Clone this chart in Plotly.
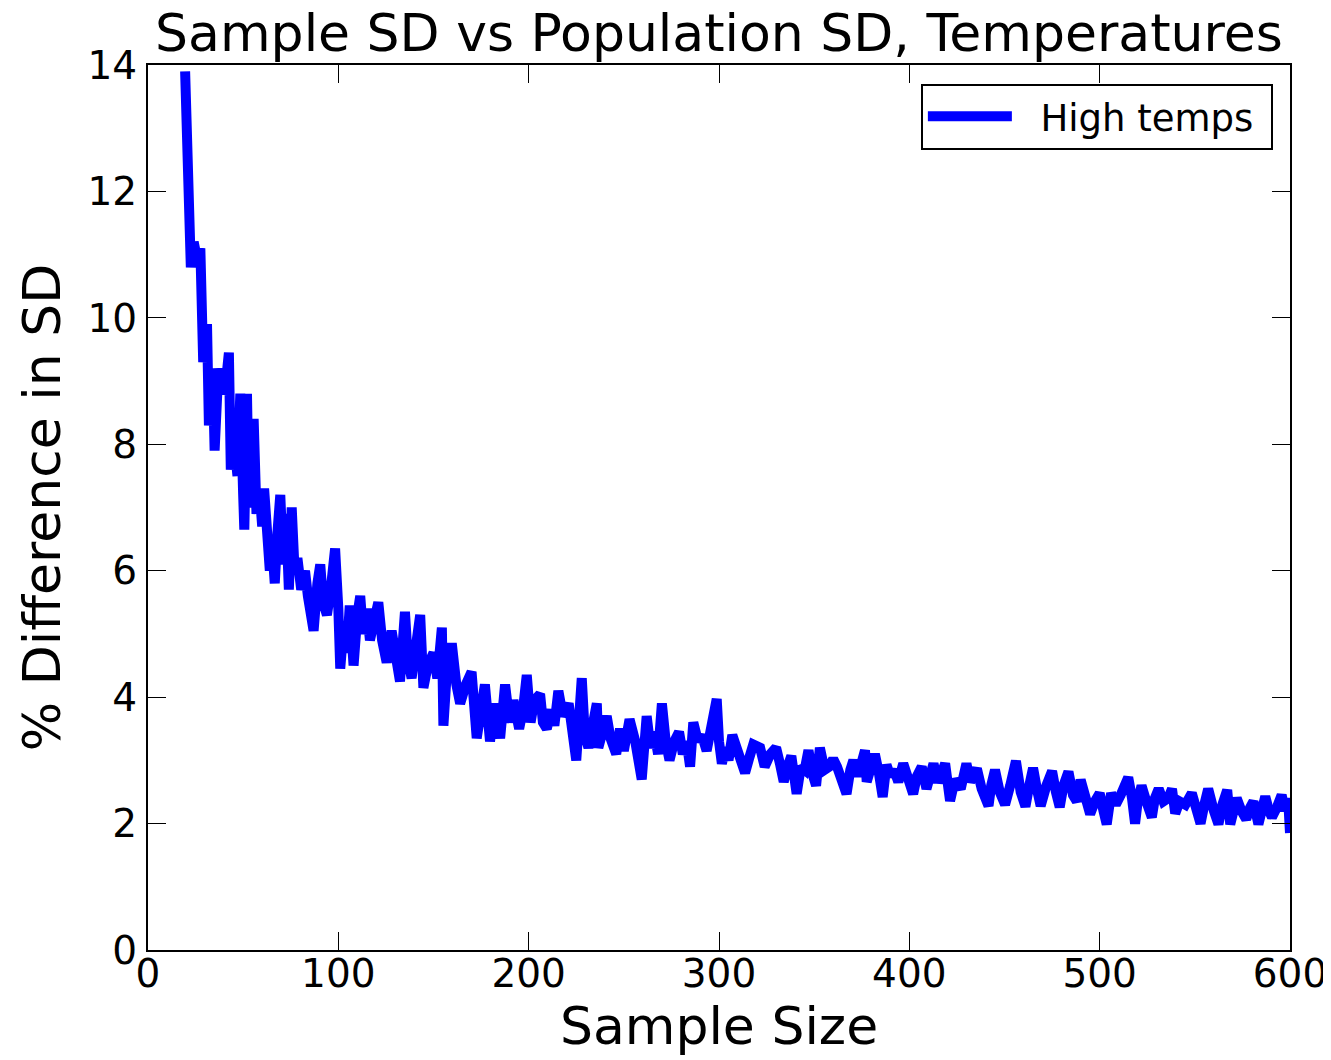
import plotly.graph_objects as go

title_text = "Sample SD vs Population SD, Temperatures"
x_label = "Sample Size"
y_label = "% Difference in SD"
series_name = "High temps"

x_ticks = [0, 100, 200, 300, 400, 500, 600]
y_ticks = [0, 2, 4, 6, 8, 10, 12, 14]

sample_size = [
    19.5, 21.5, 22.5, 24, 26, 27.5, 29, 31, 32, 34, 35, 37, 39, 41, 42.5, 43.5, 45, 47, 48.5, 50,
    50.6, 52, 53, 55.5, 57, 58.5, 60, 61, 62.5, 64, 65, 66.6, 68, 69.5, 71, 72.5, 74, 75.5, 77, 78.5,
    80.5, 82.5, 84, 87, 89, 90.5, 92, 94, 96, 98.3, 100, 101, 103, 104.5, 106, 108, 110, 111.5, 113, 115,
    116.6, 119, 121, 123, 125.4, 128, 130, 132.4, 135, 136.5, 138.5, 141, 143, 144.7, 147, 150, 152, 154.4, 155.2, 157,
    159.6, 162, 164, 167, 170, 172.7, 175, 177, 179.7, 182, 185, 187.6, 190, 192, 195, 197, 199, 201, 203, 206,
    207.5, 209.5, 212, 213.5, 215.6, 218, 221, 223, 225, 227.9, 229.5, 231.4, 233.5, 235.8, 236.6, 239, 241, 243, 246, 248,
    250, 253, 256, 259.4, 262, 264, 266, 268, 270, 272, 274, 276.5, 279, 281, 283, 284.8, 286.5, 289, 291, 293.5,
    296, 298.8, 300, 301.5, 303.5, 305, 307, 310, 313.7, 316, 318, 321.6, 324, 327, 330, 332, 334, 336, 338, 340.8,
    343, 345, 347, 349, 351, 353, 355.5, 358, 360, 362, 364, 367, 369, 370.6, 373, 376.7, 377.6, 379.5, 381.9, 384,
    386, 388, 390, 392, 394.2, 396.8, 399, 402, 404, 406.5, 409, 410.5, 412.7, 415, 418.8, 421.4, 424, 427, 430, 432,
    435.5, 438, 441.6, 443, 445, 447.5, 450.3, 453, 456, 458.5, 461, 463, 465, 467, 469, 472, 475, 477, 479, 481,
    483.6, 486, 488, 490, 492.5, 495, 497.5, 500, 502, 503.7, 506, 508.5, 511, 513, 515, 517, 518.6, 520, 522, 524.5,
    527.4, 529, 531, 533.5, 536, 538, 539.7, 542, 545, 548.4, 550.5, 553, 555, 557, 560, 562.4, 564.5, 567, 568.6, 570,
    572, 574.5, 577, 579, 580.8, 583.4, 585, 587, 589, 590.5, 593, 595.6, 597.5, 599, 600,
]

pct_diff_sd = [
    13.9, 11.4, 10.8, 11.2, 10.9, 11.1, 9.3, 9.9, 8.3, 9.2, 7.9, 9.2, 8.8, 9.0, 9.45, 7.6, 8.1, 7.5, 8.8, 7.2,
    6.65, 8.8, 7.0, 8.4, 6.9, 7.3, 6.7, 7.3, 6.4, 6.0, 6.5, 5.8, 6.6, 7.2, 6.1, 6.9, 5.7, 7.0, 6.0, 6.2,
    5.7, 6.0, 5.6, 5.05, 5.8, 6.1, 5.5, 5.3, 5.7, 6.35, 5.4, 4.45, 5.2, 4.7, 5.45, 4.5, 5.3, 5.6, 5.0, 5.4,
    4.9, 5.3, 5.5, 4.9, 4.55, 5.05, 4.7, 4.25, 5.35, 4.6, 4.3, 4.8, 5.3, 4.15, 4.5, 4.7, 4.3, 5.1, 3.55, 4.4,
    4.85, 4.2, 3.9, 4.2, 4.4, 3.35, 3.9, 4.2, 3.3, 3.9, 3.35, 4.2, 3.6, 3.95, 3.5, 3.8, 4.35, 3.6, 3.95, 4.05,
    3.6, 3.5, 3.8, 3.55, 4.1, 3.7, 3.9, 3.5, 3.0, 4.3, 3.4, 3.2, 3.6, 3.9, 3.2, 3.5, 3.7, 3.35, 3.1, 3.5,
    3.15, 3.65, 3.3, 2.7, 3.7, 3.2, 3.45, 3.1, 3.9, 3.3, 3.0, 3.3, 3.45, 3.1, 3.3, 2.9, 3.6, 3.3, 3.4, 3.15,
    3.5, 3.97, 3.3, 2.95, 3.2, 3.0, 3.4, 3.1, 2.8, 3.05, 3.25, 3.2, 2.9, 3.1, 3.2, 2.95, 2.66, 2.9, 3.07, 2.47,
    2.9, 2.85, 3.16, 2.8, 2.6, 3.2, 2.85, 2.9, 3.02, 2.9, 2.75, 2.47, 2.85, 3.0, 2.75, 3.16, 2.66, 2.9, 3.1, 2.8,
    2.42, 2.93, 2.75, 2.85, 2.66, 2.95, 2.7, 2.47, 2.75, 2.9, 2.55, 2.75, 2.95, 2.65, 2.95, 2.36, 2.7, 2.55, 2.95, 2.66,
    2.87, 2.55, 2.28, 2.6, 2.85, 2.5, 2.3, 2.6, 2.99, 2.5, 2.27, 2.6, 2.88, 2.55, 2.28, 2.6, 2.83, 2.5, 2.26, 2.6,
    2.82, 2.45, 2.35, 2.69, 2.4, 2.15, 2.35, 2.48, 2.2, 1.99, 2.48, 2.3, 2.45, 2.6, 2.73, 2.4, 2.0, 2.35, 2.6, 2.35,
    2.1, 2.4, 2.55, 2.35, 2.4, 2.55, 2.16, 2.35, 2.3, 2.48, 2.25, 2.0, 2.3, 2.55, 2.2, 1.99, 2.3, 2.53, 1.99, 2.2,
    2.4, 2.2, 2.07, 2.25, 2.35, 1.99, 2.2, 2.43, 2.2, 2.1, 2.25, 2.45, 2.2, 2.4, 1.85,
]

FONT = "DejaVu Sans"

fig = go.Figure()
fig.add_trace(go.Scatter(
    x=sample_size, y=pct_diff_sd, mode="lines",
    name="\u00a0\u00a0" + series_name + "\u00a0",
    line=dict(color="#0000FF", width=10),
    showlegend=True,
))

axis_common = dict(
    showline=True, linecolor="black", linewidth=2, mirror="ticks",
    ticks="inside", ticklen=18, tickwidth=1.2, tickcolor="black",
    showgrid=False, zeroline=False, automargin=False,
    tickfont=dict(family=FONT, size=39, color="black"),
)

# the page body adds an 8px offset, so the figure is sized to fill the window
fig.update_layout(
    width=1323, height=1052,
    margin=dict(l=140, r=41, t=57, b=110),
    paper_bgcolor="white", plot_bgcolor="white",
    font=dict(family=FONT, color="black"),
    title=dict(text=title_text, x=0.5, xref="paper", xanchor="center",
               y=1, yref="paper", yanchor="bottom", pad=dict(b=14),
               font=dict(family=FONT, size=52, color="black"),
               automargin=False),
    xaxis=dict(range=[0, 600], tickvals=x_ticks, ticklabelstandoff=-12,
               title=dict(text=x_label, font=dict(family=FONT, size=52), standoff=7),
               **axis_common),
    yaxis=dict(range=[0, 14], tickvals=y_ticks, ticklabelstandoff=1,
               title=dict(text=y_label, font=dict(family=FONT, size=52), standoff=10),
               **axis_common),
    legend=dict(x=0.985, y=0.979, xanchor="right", yanchor="top",
                bordercolor="black", borderwidth=2, bgcolor="white",
                font=dict(family=FONT, size=37, color="black"),
                itemwidth=84),
)

fig.write_html("out.html")
